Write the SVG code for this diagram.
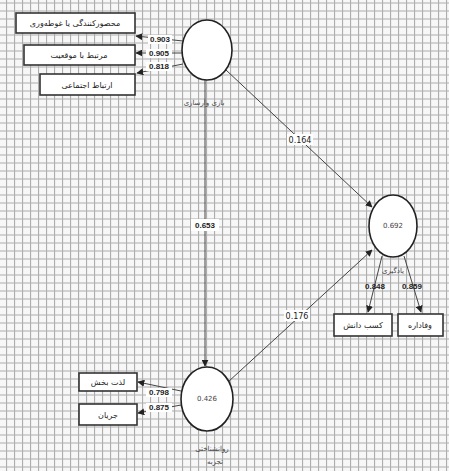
<svg xmlns="http://www.w3.org/2000/svg" width="449" height="471" viewBox="0 0 449 471">
<defs>
<pattern id="grid" x="6" y="2.5" width="8" height="8" patternUnits="userSpaceOnUse">
<rect width="8" height="8" fill="#f7f7f7"/>
<path d="M0.5 0V8M0 0.5H8" stroke="#adadad" stroke-width="1.2"/>
</pattern>
<marker id="ah" viewBox="0 0 10 10" refX="9" refY="5" markerWidth="7" markerHeight="7" markerUnits="userSpaceOnUse" orient="auto">
<path d="M0 0L10 5L0 10z" fill="#222"/>
</marker>
<style>
.nd{fill:#fff;stroke:#222;stroke-width:1.6}
.bx{fill:#fff;stroke:#333;stroke-width:1.6}
.e{fill:none;stroke:#444;stroke-width:1}
.t{font-family:"DejaVu Sans","Noto Sans",sans-serif;font-size:8px;fill:#222;text-anchor:middle}
.s{font-family:"DejaVu Sans","Noto Sans",sans-serif;font-size:7px;fill:#444;text-anchor:middle}
.n{font-family:"Liberation Sans",Arial,sans-serif;font-size:8px;font-weight:bold;fill:#222;text-anchor:middle}
.lb{fill:#fff}
</style>
</defs>
<rect width="449" height="471" fill="url(#grid)"/>

<g id="connectors">
<line class="e" x1="205" y1="80" x2="205" y2="366" stroke="#555" stroke-width="3" marker-end="url(#ah)"/>
<line class="e" x1="226" y1="70" x2="372" y2="207" marker-end="url(#ah)"/>
<line class="e" x1="228" y1="382" x2="372" y2="250" marker-end="url(#ah)"/>
<line class="e" x1="183" y1="41" x2="136" y2="36" marker-end="url(#ah)"/>
<line class="e" x1="182" y1="53" x2="136" y2="53" marker-end="url(#ah)"/>
<line class="e" x1="183" y1="64" x2="137" y2="73" marker-end="url(#ah)"/>
<line class="e" x1="181" y1="391" x2="138" y2="382" marker-end="url(#ah)"/>
<line class="e" x1="181" y1="405" x2="138" y2="413" marker-end="url(#ah)"/>
<line class="e" x1="382" y1="256" x2="368" y2="312" marker-end="url(#ah)"/>
<line class="e" x1="404" y1="256" x2="421" y2="312" marker-end="url(#ah)"/>
<rect class="lb" x="191" y="219" width="28" height="12"/>
<text class="n" x="205" y="228">0.653</text>
<rect class="lb" x="287" y="134" width="26" height="11"/>
<text class="t" x="300" y="143" font-family="Liberation Sans">0.164</text>
<rect class="lb" x="284" y="310" width="26" height="11"/>
<text class="t" x="297" y="319" font-family="Liberation Sans">0.176</text>
<rect class="lb" x="148" y="35" width="24" height="9"/>
<text class="n" x="160" y="42">0.903</text>
<rect class="lb" x="146" y="49" width="26" height="9"/>
<text class="n" x="159" y="56">0.905</text>
<rect class="lb" x="146" y="62" width="26" height="9"/>
<text class="n" x="159" y="69">0.818</text>
<rect class="lb" x="146" y="388" width="26" height="9"/>
<text class="n" x="159" y="395">0.798</text>
<rect class="lb" x="146" y="403" width="26" height="9"/>
<text class="n" x="159" y="410">0.875</text>
<text class="n" x="375" y="289">0.848</text>
<text class="n" x="412" y="289">0.859</text>
</g>

<g id="node-top">
<ellipse class="nd" cx="207" cy="50" rx="25" ry="30"/>
<text class="s" x="204" y="105">بازی وارسازی</text>
</g>
<g id="node-bottom">
<ellipse class="nd" cx="207" cy="399" rx="26" ry="32"/>
<text class="s" x="207" y="401" font-family="Liberation Sans">0.426</text>
<text class="s" x="212" y="451">روانشناختی</text>
<text class="s" x="215" y="464">تجربه</text>
</g>
<g id="node-right">
<ellipse class="nd" cx="393" cy="226" rx="24" ry="31"/>
<text class="s" x="393" y="228" font-family="Liberation Sans">0.692</text>
<text class="s" x="393" y="273">یادگیری</text>
</g>
<g id="box-1">
<rect class="bx" x="16" y="13" width="119" height="20"/>
<text class="t" x="75" y="26">محصورکنندگی یا غوطه‌وری</text>
</g>
<g id="box-2">
<rect class="bx" x="24" y="45" width="111" height="20"/>
<text class="t" x="79" y="58">مرتبط با موقعیت</text>
</g>
<g id="box-3">
<rect class="bx" x="40" y="74" width="95" height="21"/>
<text class="t" x="87" y="88">ارتباط اجتماعی</text>
</g>
<g id="box-4">
<rect class="bx" x="79" y="373" width="58" height="18"/>
<text class="t" x="108" y="385">لذت بخش</text>
</g>
<g id="box-5">
<rect class="bx" x="79" y="404" width="58" height="21"/>
<text class="t" x="108" y="418">جریان</text>
</g>
<g id="box-6">
<rect class="bx" x="334" y="314" width="58" height="22"/>
<text class="t" x="363" y="328">کسب دانش</text>
</g>
<g id="box-7">
<rect class="bx" x="398" y="314" width="45" height="22"/>
<text class="t" x="420" y="328">وفاداره</text>
</g>
</svg>
